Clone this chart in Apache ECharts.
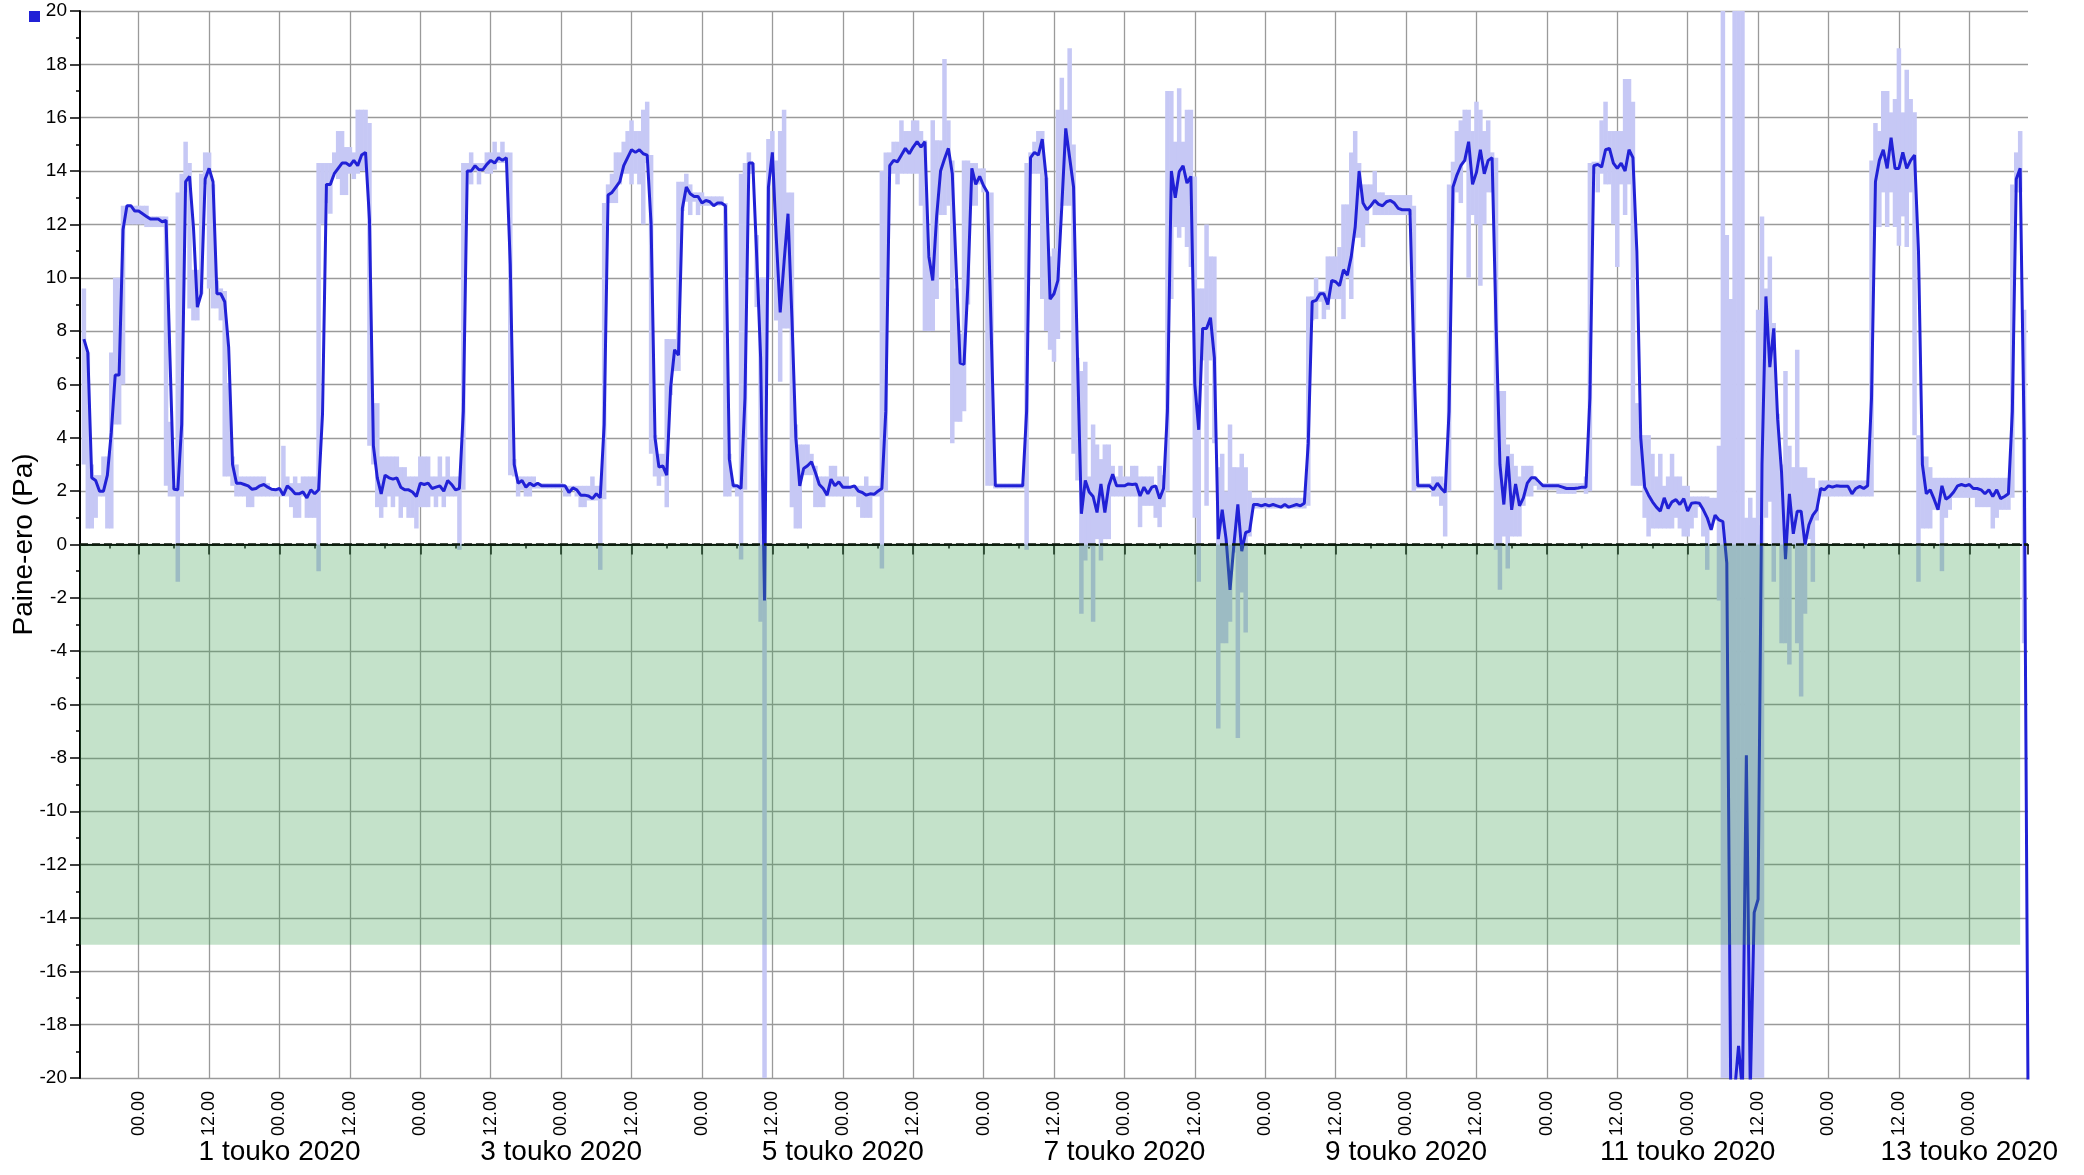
<!DOCTYPE html>
<html>
<head>
<meta charset="utf-8">
<script src="https://cdn.jsdelivr.net/npm/echarts@6/dist/echarts.min.js"></script>
<style>
  html, body { margin: 0; padding: 0; background: #ffffff; }
  #chart { width: 2084px; height: 1175px; }
</style>
</head>
<body>
<div id="chart"></div>
<script>
// Pressure difference, 40-minute samples: mean (line) and min/max range (bars)
const seriesStart = '2020-04-29T14:40:00';
const stepMinutes = 40;
const axisStart = '2020-04-29T14:00:00';
const axisEnd = '2020-05-13T10:00:00';

const meanPa = [
  7.7, 7.2, 2.5, 2.4, 2.0, 2.0, 2.6, 4.2, 6.35, 6.35,
  11.8, 12.7, 12.7, 12.5, 12.5, 12.4, 12.3, 12.2, 12.2, 12.2,
  12.1, 12.15, 7.0, 2.07, 2.05, 4.5, 13.6, 13.8, 11.9, 8.9,
  9.4, 13.7, 14.1, 13.6, 9.4, 9.4, 9.1, 7.4, 3.0, 2.3,
  2.3, 2.25, 2.2, 2.07, 2.1, 2.2, 2.25, 2.15, 2.07, 2.05,
  2.1, 1.85, 2.2, 2.07, 1.9, 1.9, 1.97, 1.75, 2.05, 1.9,
  2.05, 4.9, 13.5, 13.5, 13.9, 14.1, 14.3, 14.3, 14.2, 14.4,
  14.2, 14.6, 14.7, 12.2, 3.7, 2.5, 1.9, 2.6, 2.5, 2.45,
  2.5, 2.15, 2.05, 2.05, 1.97, 1.8, 2.3, 2.25, 2.3, 2.1,
  2.15, 2.2, 2.0, 2.4, 2.25, 2.05, 2.1, 5.0, 14.0, 14.0,
  14.2, 14.05, 14.05, 14.25, 14.4, 14.3, 14.5, 14.4, 14.5, 10.5,
  3.0, 2.3, 2.4, 2.15, 2.3, 2.2, 2.3, 2.2, 2.2, 2.2,
  2.2, 2.2, 2.2, 2.2, 1.95, 2.12, 2.05, 1.85, 1.85, 1.82,
  1.72, 1.9, 1.75, 4.5, 13.1, 13.2, 13.4, 13.6, 14.2, 14.5,
  14.8, 14.7, 14.8, 14.65, 14.6, 12.0, 4.0, 2.9, 2.95, 2.6,
  5.9, 7.3, 7.1, 12.6, 13.4, 13.15, 13.05, 13.05, 12.8, 12.9,
  12.85, 12.7, 12.8, 12.8, 12.7, 3.2, 2.2, 2.2, 2.1, 5.5,
  14.3, 14.3, 10.8, 7.0, -2.1, 13.4, 14.7, 11.5, 8.7, 10.6,
  12.4, 8.5, 4.0, 2.2, 2.85, 2.95, 3.1, 2.7, 2.25, 2.1,
  1.85, 2.45, 2.2, 2.35, 2.15, 2.15, 2.15, 2.2, 2.0, 1.95,
  1.85, 1.9, 1.88, 2.0, 2.1, 5.0, 14.2, 14.4, 14.35, 14.6,
  14.85, 14.65, 14.9, 15.1, 14.9, 15.1, 10.8, 9.9, 12.3, 14.0,
  14.45, 14.85, 13.9, 10.3, 6.8, 6.75, 9.8, 14.1, 13.5, 13.8,
  13.45, 13.2, 7.7, 2.2, 2.2, 2.2, 2.2, 2.2, 2.2, 2.2,
  2.2, 5.0, 14.5, 14.7, 14.6, 15.2, 13.75, 9.2, 9.4, 9.9,
  12.7, 15.6, 14.5, 13.4, 7.0, 1.15, 2.4, 1.97, 1.8, 1.2,
  2.27, 1.2, 2.2, 2.63, 2.2, 2.2, 2.2, 2.27, 2.25, 2.27,
  1.82, 2.15, 1.9, 2.15, 2.2, 1.72, 2.1, 5.0, 14.0, 13.0,
  13.97, 14.2, 13.55, 13.8, 6.0, 4.3, 8.1, 8.1, 8.5, 7.0,
  0.2, 1.3, 0.2, -1.7, 0.0, 1.5, -0.25, 0.45, 0.5, 1.5,
  1.5, 1.45, 1.5, 1.45, 1.5, 1.45, 1.4, 1.5, 1.4, 1.45,
  1.5, 1.45, 1.55, 3.8, 9.1, 9.15, 9.4, 9.4, 9.0, 9.9,
  9.85, 9.7, 10.3, 10.1, 10.8, 11.9, 14.0, 12.8, 12.55, 12.7,
  12.9, 12.75, 12.7, 12.85, 12.9, 12.8, 12.6, 12.55, 12.55, 12.55,
  7.0, 2.2, 2.2, 2.2, 2.2, 2.05, 2.3, 2.1, 1.95, 5.0,
  13.4, 13.85, 14.2, 14.4, 15.1, 13.5, 13.95, 14.8, 13.9, 14.4,
  14.5, 8.3, 3.0, 1.5, 3.3, 1.3, 2.27, 1.45, 1.75, 2.3,
  2.5, 2.5, 2.35, 2.2, 2.2, 2.2, 2.2, 2.2, 2.15, 2.1,
  2.1, 2.1, 2.12, 2.15, 2.15, 5.5, 14.2, 14.25, 14.15, 14.8,
  14.85, 14.3, 14.1, 14.3, 14.0, 14.8, 14.5, 11.0, 4.0, 2.15,
  1.85, 1.6, 1.4, 1.25, 1.75, 1.35, 1.6, 1.68, 1.5, 1.72,
  1.25, 1.55, 1.57, 1.55, 1.3, 1.0, 0.55, 1.1, 0.92, 0.86,
  -0.7, -20.5, -20.5, -18.8, -20.5, -7.9, -20.5, -13.8, -13.3, 3.0,
  9.3, 6.65, 8.1, 4.7, 2.7, -0.55, 1.9, 0.4, 1.25, 1.25,
  0.0, 0.74, 1.1, 1.3, 2.1, 2.05, 2.2, 2.15, 2.2, 2.18,
  2.18, 2.18, 1.9, 2.1, 2.18, 2.1, 2.2, 5.5, 13.6, 14.4,
  14.8, 14.1, 15.25, 14.1, 14.1, 14.7, 14.1, 14.4, 14.6, 11.0,
  3.0, 1.9, 2.05, 1.7, 1.3, 2.2, 1.7, 1.8, 1.97, 2.2,
  2.25, 2.2, 2.25, 2.1, 2.1, 2.05, 1.9, 2.05, 1.8, 2.05,
  1.72, 1.8, 1.9, 5.0, 13.7, 14.1, 4.2, -20.5
];

const minPa = [
  3.0, 0.6, 0.6, 1.0, 1.8, 1.8, 0.6, 0.6, 4.5, 4.5,
  6.0, 12.0, 12.0, 12.0, 12.0, 12.0, 11.9, 11.9, 11.9, 11.9,
  11.9, 2.2, 1.8, 1.8, -1.4, 1.8, 13.2, 8.85, 8.4, 8.4,
  9.4, 13.5, 9.6, 8.85, 8.85, 8.4, 2.55, 2.55, 2.2, 1.8,
  1.8, 1.8, 1.4, 1.4, 1.8, 1.8, 1.8, 1.8, 1.8, 1.8,
  1.8, 1.8, 1.8, 1.4, 1.0, 1.0, 1.8, 1.0, 1.0, 1.0,
  -1.0, 12.0, 12.8, 12.4, 13.9, 13.7, 13.1, 13.1, 13.9, 13.7,
  13.9, 14.0, 14.0, 3.7, 3.0, 1.4, 1.0, 1.4, 1.8, 1.4,
  1.8, 1.0, 1.4, 1.0, 1.0, 0.6, 1.4, 1.4, 1.4, 1.8,
  1.4, 1.8, 1.4, 1.8, 1.8, 1.8, -0.2, 2.05, 14.0, 13.5,
  14.0, 13.5, 14.0, 13.9, 13.9, 14.05, 14.3, 14.3, 14.3, 2.6,
  2.55, 1.8, 2.05, 1.8, 1.8, 2.1, 2.1, 2.1, 2.1, 2.1,
  2.1, 2.1, 2.1, 1.8, 1.8, 2.05, 1.8, 1.4, 1.4, 1.65,
  1.65, 1.65, -0.95, 1.7, 12.8, 12.8, 12.8, 13.5, 13.9, 13.9,
  13.5, 13.9, 13.5, 12.0, 14.3, 3.4, 2.55, 2.2, 2.55, 1.4,
  5.6, 6.5, 6.5, 12.5, 12.85, 12.35, 12.85, 12.35, 12.7, 12.7,
  12.7, 12.7, 12.7, 12.7, 1.8, 1.8, 2.1, 1.8, -0.56, 2.05,
  13.9, 13.9, 8.9, -2.9, -20, 10.0, 13.9, 8.4, 6.1, 8.1,
  8.1, 1.4, 0.6, 0.6, 2.6, 2.6, 2.6, 1.4, 1.4, 1.4,
  1.8, 1.8, 1.8, 1.8, 1.8, 1.8, 1.8, 1.8, 1.4, 1.0,
  1.0, 1.0, 1.8, 1.8, -0.9, 2.0, 13.9, 13.9, 13.5, 13.9,
  13.9, 13.9, 13.9, 13.9, 12.7, 8.0, 8.0, 8.0, 9.2, 12.35,
  12.35, 12.7, 3.8, 4.6, 4.6, 5.0, 9.0, 12.7, 12.7, 13.5,
  13.2, 2.2, 2.2, 2.1, 2.1, 2.1, 2.1, 2.1, 2.1, 2.1,
  2.1, -0.2, 13.9, 13.9, 13.9, 9.2, 8.0, 7.3, 6.85, 7.7,
  12.7, 12.7, 12.7, 3.4, 2.4, -2.6, -0.6, -0.1, -2.9, 0.2,
  -0.6, 0.2, 0.2, 1.8, 1.8, 1.8, 1.8, 1.8, 1.8, 1.8,
  0.65, 1.45, 1.45, 1.45, 1.0, 0.65, 1.4, 2.0, 9.2, 11.9,
  11.5, 11.9, 11.15, 10.4, 1.0, -1.4, 6.9, 1.45, 6.9, 3.8,
  -6.9, -3.7, -3.7, -2.9, -0.3, -7.25, -1.8, -3.3, 0.3, 1.35,
  1.35, 1.35, 1.35, 1.35, 1.35, 1.35, 1.35, 1.35, 1.35, 1.35,
  1.35, 1.35, 1.35, 1.45, 8.4, 8.45, 9.1, 8.45, 8.8, 9.2,
  9.2, 9.2, 8.45, 10.0, 9.2, 11.5, 11.5, 11.15, 12.0, 12.7,
  12.35, 12.35, 12.35, 12.35, 12.35, 12.35, 12.35, 12.35, 12.35, 12.35,
  2.0, 2.1, 2.1, 2.1, 2.1, 1.8, 1.8, 1.45, 0.3, 2.0,
  12.0, 13.2, 12.8, 14.35, 10.0, 12.35, 12.0, 9.7, 12.0, 13.2,
  13.2, -0.2, -1.7, 0.3, -0.9, 0.3, 0.3, 0.3, 1.45, 1.8,
  1.8, 2.2, 2.05, 2.05, 2.05, 2.05, 2.05, 1.9, 1.9, 1.9,
  1.9, 1.9, 2.05, 2.05, 1.9, 2.0, 13.9, 13.2, 13.9, 13.5,
  13.5, 12.0, 10.4, 13.5, 12.35, 13.5, 2.2, 2.2, 2.2, 1.0,
  0.3, 0.6, 0.6, 0.6, 0.6, 0.6, 0.6, 1.0, 0.6, 0.3,
  0.3, 0.6, 1.0, 1.4, 0.3, -0.95, 0.6, 0.9, -2.1, -20,
  -20, -20, -20, -20, -20, -20, -20, -20, -20, -20,
  1.0, 1.6, -1.4, 0.0, -3.7, -3.7, -4.5, 0.0, -3.7, -5.7,
  -2.6, 0.2, -1.4, 0.9, 1.8, 1.8, 1.8, 1.8, 1.8, 1.8,
  1.8, 1.8, 1.8, 1.8, 1.8, 1.8, 1.8, 1.8, 11.9, 11.9,
  13.2, 11.9, 13.2, 11.9, 11.2, 12.3, 11.15, 13.2, 4.1, -1.4,
  0.6, 0.6, 0.6, 1.3, 1.3, -1.0, 1.0, 1.3, 1.75, 1.75,
  1.75, 1.75, 1.75, 1.75, 1.4, 1.4, 1.4, 1.4, 0.6, 1.0,
  1.3, 1.3, 1.3, 1.75, 13.2, 13.2, -3.7, -20.5
];

const maxPa = [
  9.6, 7.2, 3.0, 2.6, 2.6, 3.3, 3.3, 7.2, 10.0, 10.0,
  12.7, 12.7, 12.7, 12.7, 12.7, 12.7, 12.7, 12.3, 12.3, 12.3,
  12.3, 12.3, 4.6, 2.2, 13.2, 13.9, 15.1, 14.3, 10.3, 10.3,
  13.9, 14.7, 14.7, 13.5, 9.9, 9.6, 9.5, 6.05, 3.3, 3.0,
  2.55, 2.55, 2.55, 2.55, 2.55, 2.55, 2.55, 2.3, 2.1, 2.1,
  2.1, 3.7, 2.55, 2.3, 2.55, 2.3, 2.55, 2.55, 2.55, 2.55,
  14.3, 14.3, 14.3, 14.3, 14.7, 15.5, 15.5, 14.9, 14.9, 14.7,
  16.3, 16.3, 16.3, 15.8, 5.3, 5.3, 3.3, 3.3, 3.3, 3.3,
  3.3, 2.9, 2.9, 2.55, 2.55, 2.55, 3.3, 3.3, 3.3, 2.55,
  2.55, 3.3, 2.55, 3.3, 2.55, 2.55, 2.55, 14.3, 14.3, 14.7,
  14.3, 14.3, 14.3, 14.7, 14.7, 15.1, 14.7, 15.1, 14.7, 14.7,
  3.2, 2.55, 2.55, 2.55, 2.55, 2.55, 2.3, 2.3, 2.3, 2.3,
  2.3, 2.3, 2.3, 2.2, 2.2, 2.2, 2.2, 2.2, 2.2, 2.2,
  2.55, 2.2, 2.2, 12.8, 13.5, 13.9, 14.7, 14.7, 15.1, 15.5,
  15.9, 15.5, 15.5, 16.3, 16.6, 14.6, 4.1, 3.4, 3.4, 7.7,
  7.7, 7.7, 13.6, 13.6, 13.9, 13.5, 13.2, 13.2, 13.2, 13.05,
  13.05, 13.05, 13.05, 13.05, 12.8, 3.4, 2.3, 2.2, 13.9, 14.3,
  14.7, 14.3, 11.6, 10.0, 10.0, 15.2, 15.5, 14.4, 15.5, 16.3,
  13.2, 13.2, 4.5, 3.75, 3.75, 3.75, 3.4, 2.95, 2.55, 2.55,
  2.55, 2.95, 2.95, 2.55, 2.55, 2.55, 2.2, 2.2, 2.2, 2.2,
  2.55, 2.2, 2.2, 2.2, 14.0, 14.7, 14.7, 15.1, 15.1, 15.9,
  15.5, 15.5, 15.9, 15.9, 15.5, 15.15, 10.8, 15.9, 15.15, 15.15,
  18.2, 15.9, 14.4, 9.6, 7.9, 14.4, 14.4, 14.3, 14.3, 14.1,
  14.1, 13.2, 13.2, 2.3, 2.3, 2.3, 2.3, 2.3, 2.3, 2.3,
  2.3, 14.3, 14.7, 15.1, 15.5, 15.5, 13.75, 10.8, 11.1, 16.3,
  17.5, 16.3, 18.6, 15.0, 7.0, 6.5, 6.85, 2.55, 4.5, 3.75,
  3.2, 3.75, 3.75, 2.95, 2.55, 2.95, 2.55, 2.55, 2.95, 2.95,
  2.55, 2.55, 2.55, 2.55, 2.2, 2.95, 2.6, 17.0, 17.0, 15.1,
  17.1, 15.1, 16.3, 16.3, 13.8, 9.6, 9.6, 12.0, 10.8, 10.8,
  2.9, 3.4, 2.0, 4.5, 2.9, 2.9, 3.4, 2.9, 2.0, 1.75,
  1.75, 1.75, 1.75, 1.75, 1.75, 1.75, 1.75, 1.75, 1.75, 1.75,
  1.75, 1.75, 1.75, 9.3, 9.3, 10.0, 9.5, 9.5, 10.8, 10.8,
  10.8, 11.15, 12.75, 12.75, 14.7, 15.5, 14.3, 13.5, 13.5, 13.5,
  14.0, 13.2, 13.2, 13.1, 13.1, 13.1, 13.1, 13.1, 13.1, 13.1,
  12.7, 2.3, 2.3, 2.3, 2.3, 2.55, 2.55, 2.55, 2.3, 13.5,
  14.35, 15.5, 15.9, 16.3, 16.3, 15.5, 16.6, 16.3, 15.5, 15.9,
  14.7, 14.5, 5.75, 5.75, 3.75, 3.4, 2.95, 2.55, 2.95, 2.95,
  2.95, 2.55, 2.3, 2.3, 2.3, 2.3, 2.3, 2.3, 2.3, 2.3,
  2.3, 2.3, 2.3, 2.3, 2.55, 14.3, 14.35, 14.35, 15.9, 16.6,
  15.5, 15.5, 15.5, 15.5, 17.45, 17.45, 16.6, 5.3, 4.1, 4.1,
  4.1, 3.4, 2.55, 3.4, 2.2, 2.55, 3.4, 2.55, 2.55, 2.2,
  2.2, 1.8, 1.8, 1.8, 1.8, 1.8, 1.75, 1.75, 3.7, 20.5,
  11.6, 9.2, 20.5, 20.5, 20.5, 1.0, 1.75, 1.0, 8.8, 12.3,
  9.6, 10.8, 8.3, 4.9, 3.0, 6.5, 3.7, 2.9, 7.3, 2.9,
  2.9, 2.5, 2.5, 2.1, 2.4, 2.4, 2.4, 2.4, 2.4, 2.4,
  2.4, 2.4, 2.4, 2.4, 2.4, 2.4, 2.4, 14.4, 15.8, 15.5,
  17.0, 17.0, 16.2, 16.7, 18.6, 16.2, 17.8, 16.7, 16.2, 4.1,
  3.3, 3.3, 2.9, 2.5, 2.5, 2.5, 2.5, 2.5, 2.5, 2.5,
  2.5, 2.5, 2.5, 2.5, 2.5, 2.5, 2.5, 2.5, 2.5, 2.5,
  2.5, 2.5, 2.5, 13.5, 14.7, 15.5, 8.8, -20.5
];

// Acceptable-pressure zone shaded in green
const zoneTopPa = 0;
const zoneBottomPa = -15;
const zoneStart = '2020-04-29T14:00:00';
const zoneEnd = '2020-05-13T08:40:00';

const referenceLevelPa = 0;
const monthNames = ['tammi', 'helmi', 'maalis', 'huhti', 'touko', 'kesä',
                    'heinä', 'elo', 'syys', 'loka', 'marras', 'joulu'];

const HOUR = 3600 * 1000;
const stepMs = stepMinutes * 60 * 1000;
const t0 = new Date(seriesStart).getTime();
const xMin = new Date(axisStart).getTime();
const xMax = new Date(axisEnd).getTime();
const timeAt = i => t0 + i * stepMs;

const lineData = meanPa.map((v, i) => [timeAt(i), v]);
const rangeData = meanPa.map((_, i) => [timeAt(i), minPa[i], maxPa[i]]);
const zoneData = [[new Date(zoneStart).getTime(), new Date(zoneEnd).getTime(), zoneTopPa, zoneBottomPa]];
const zeroData = [[xMin, referenceLevelPa], [xMax, referenceLevelPa]];

const pad = n => (n < 10 ? '0' : '') + n;
const FONT = "'Liberation Sans', Arial, Helvetica, sans-serif";

function clipToGrid(rect, params) {
  const cs = params.coordSys;
  return echarts.graphic.clipRectByRect(rect, { x: cs.x, y: cs.y, width: cs.width, height: cs.height });
}

function renderRange(params, api) {
  const x = api.value(0);
  const top = api.coord([x, api.value(2)]);
  const bottom = api.coord([x, api.value(1)]);
  const w = api.size([stepMs, 0])[0] + 0.6;
  const shape = clipToGrid({ x: top[0] - w / 2, y: top[1], width: w, height: bottom[1] - top[1] }, params);
  return shape ? { type: 'rect', shape: shape, style: { fill: '#c6c8f5' } } : null;
}

function renderZone(params, api) {
  const a = api.coord([api.value(0), api.value(2)]);
  const b = api.coord([api.value(1), api.value(3)]);
  const shape = clipToGrid({ x: a[0], y: a[1], width: b[0] - a[0], height: b[1] - a[1] }, params);
  return shape ? { type: 'rect', shape: shape, style: { fill: 'rgba(60,160,80,0.3)' } } : null;
}

const chart = echarts.init(document.getElementById('chart'), null, { renderer: 'canvas' });

// slightly over 12 h / 24 h so the time scale settles on half-day and day steps
const halfDayStep = 12 * HOUR + 60 * 1000;
const dayStep = 24 * HOUR + 60 * 1000;

chart.setOption({
  animation: false,
  backgroundColor: '#ffffff',
  textStyle: { fontFamily: FONT, color: '#000' },
  legend: {
    left: 29, top: 11, padding: 0, itemGap: 0,
    itemWidth: 11, itemHeight: 11,
    selectedMode: false,
    formatter: () => '',
    data: [{ name: 'Paine-ero', icon: 'rect', itemStyle: { color: '#2121d6' } }]
  },
  grid: { left: 80, right: 56, top: 11, bottom: 97, containLabel: false, outerBoundsMode: 'none' },
  xAxis: [
    {
      type: 'time',
      min: xMin, max: xMax,
      minInterval: halfDayStep, maxInterval: halfDayStep,
      position: 'bottom',
      axisLine: { show: true, lineStyle: { color: '#000', width: 2 } },
      axisTick: { show: true, length: 10, lineStyle: { color: '#000', width: 1.5 } },
      minorTick: { show: true, splitNumber: 2, length: 4, lineStyle: { color: '#000', width: 1.5 } },
      splitLine: { show: true, showMinLine: false, showMaxLine: false, lineStyle: { color: '#9a9a9a', width: 1.3 } },
      axisLabel: {
        rotate: 90, fontSize: 18, color: '#000', margin: 13, fontFamily: FONT,
        showMinLabel: false, showMaxLabel: false,
        formatter: v => {
          const d = new Date(v);
          if (d.getMinutes() !== 0 || (d.getHours() !== 0 && d.getHours() !== 12)) return '';
          return pad(d.getHours()) + '.' + pad(d.getMinutes());
        }
      }
    },
    {
      type: 'time',
      min: xMin, max: xMax,
      minInterval: dayStep, maxInterval: dayStep,
      position: 'bottom',
      axisLine: { show: false },
      axisTick: { show: false },
      splitLine: { show: false },
      axisLabel: {
        fontSize: 28, color: '#000', margin: 60, fontFamily: FONT,
        showMinLabel: false, showMaxLabel: false,
        formatter: v => {
          const d = new Date(v);
          if (d.getHours() !== 0 || d.getMinutes() !== 0 || d.getDate() % 2 === 0) return '';
          return d.getDate() + ' ' + monthNames[d.getMonth()] + ' ' + d.getFullYear();
        }
      }
    }
  ],
  yAxis: {
    type: 'value',
    min: -20, max: 20, interval: 2,
    name: 'Paine-ero (Pa)',
    nameLocation: 'middle',
    nameGap: 42,
    nameMoveOverlap: false,
    nameTextStyle: { fontSize: 28, color: '#000', fontFamily: FONT },
    axisLine: { show: true, lineStyle: { color: '#000', width: 2 } },
    axisTick: { show: true, length: 10, lineStyle: { color: '#000', width: 1.5 } },
    minorTick: { show: true, splitNumber: 2, length: 4, lineStyle: { color: '#000', width: 1.5 } },
    splitLine: { show: true, lineStyle: { color: '#9a9a9a', width: 1.3 } },
    axisLabel: { fontSize: 19, color: '#000', margin: 13, fontFamily: FONT }
  },
  series: [
    {
      name: 'Vaihteluväli',
      type: 'custom',
      renderItem: renderRange,
      encode: { x: 0, y: [1, 2] },
      data: rangeData,
      silent: true,
      z: 1
    },
    {
      name: 'Paine-ero',
      type: 'line',
      data: lineData,
      color: '#2121d6',
      symbol: 'none',
      showSymbol: false,
      clip: true,
      lineStyle: { color: '#2121d6', width: 3 },
      silent: true,
      z: 3
    },
    {
      name: 'Tavoitealue',
      type: 'custom',
      renderItem: renderZone,
      encode: { x: [0, 1], y: [2, 3] },
      data: zoneData,
      silent: true,
      z: 4
    },
    {
      name: 'Nollataso',
      type: 'line',
      data: zeroData,
      symbol: 'none',
      lineStyle: { color: '#0d1a0d', width: 2.4, type: [8, 4] },
      silent: true,
      z: 5
    }
  ]
});
</script>
</body>
</html>
